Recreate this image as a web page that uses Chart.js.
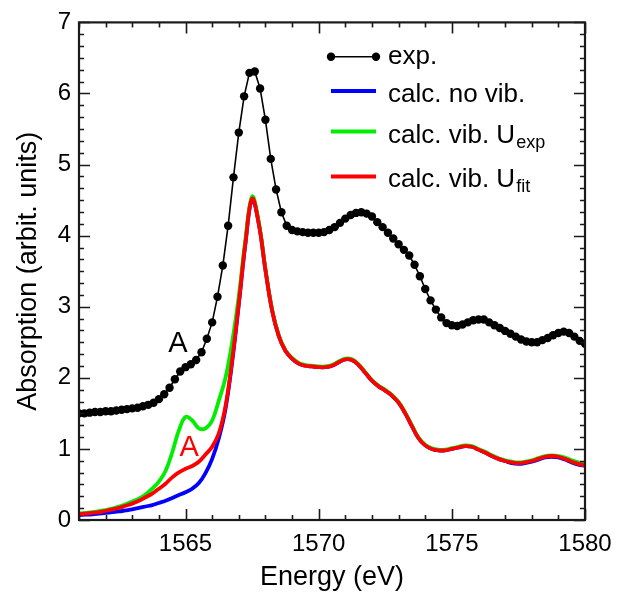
<!DOCTYPE html>
<html>
<head>
<meta charset="utf-8">
<script src="https://cdn.jsdelivr.net/npm/chart.js@4.4.1/dist/chart.umd.min.js"></script>
<style>
  html, body { margin: 0; padding: 0; background: #fff; }
  #wrap { width: 637px; height: 598px; }
</style>
</head>
<body>
<div id="wrap"><canvas id="grafico"></canvas></div>
<script>
// ===== dados =====
const energyExp = [
  1561.0, 1561.2, 1561.4, 1561.6, 1561.8,
  1562.0, 1562.2, 1562.4, 1562.6, 1562.8,
  1563.0, 1563.2, 1563.4, 1563.6, 1563.8,
  1564.0, 1564.2, 1564.4, 1564.6, 1564.8,
  1565.0, 1565.2, 1565.4, 1565.6, 1565.8,
  1566.0, 1566.2, 1566.4, 1566.6, 1566.8,
  1567.0, 1567.2, 1567.4, 1567.6, 1567.8,
  1568.0, 1568.2, 1568.4, 1568.6, 1568.8,
  1569.0, 1569.2, 1569.4, 1569.6, 1569.8,
  1570.0, 1570.2, 1570.4, 1570.6, 1570.8,
  1571.0, 1571.2, 1571.4, 1571.6, 1571.8,
  1572.0, 1572.2, 1572.4, 1572.6, 1572.8,
  1573.0, 1573.2, 1573.4, 1573.6, 1573.8,
  1574.0, 1574.2, 1574.4, 1574.6, 1574.8,
  1575.0, 1575.2, 1575.4, 1575.6, 1575.8,
  1576.0, 1576.2, 1576.4, 1576.6, 1576.8,
  1577.0, 1577.2, 1577.4, 1577.6, 1577.8,
  1578.0, 1578.2, 1578.4, 1578.6, 1578.8,
  1579.0, 1579.2, 1579.4, 1579.6, 1579.8,
  1580.0
];
const absExp = [
  1.50, 1.50, 1.51, 1.52, 1.52,
  1.53, 1.53, 1.54, 1.55, 1.56,
  1.57, 1.58, 1.60, 1.62, 1.65,
  1.70, 1.77, 1.86, 1.98, 2.09,
  2.15, 2.19, 2.25, 2.36, 2.55,
  2.78, 3.14, 3.58, 4.14, 4.82,
  5.45, 5.96, 6.29, 6.31, 6.07,
  5.63, 5.08, 4.65, 4.33, 4.14,
  4.08, 4.06, 4.05, 4.04, 4.04,
  4.04, 4.05, 4.08, 4.12, 4.18,
  4.24, 4.29, 4.32, 4.33, 4.31,
  4.27, 4.19, 4.12, 4.04, 3.96,
  3.88, 3.80, 3.72, 3.59, 3.43,
  3.25, 3.09, 2.96, 2.85, 2.77,
  2.74, 2.73, 2.75, 2.78, 2.81,
  2.82, 2.82, 2.78, 2.74, 2.70,
  2.66, 2.62, 2.58, 2.54, 2.51,
  2.50, 2.50, 2.53, 2.56, 2.60,
  2.63, 2.65, 2.63, 2.58, 2.52,
  2.48
];
const energyCalc = [
  1561.00, 1561.25, 1561.50, 1561.75,
  1562.00, 1562.25, 1562.50, 1562.75,
  1563.00, 1563.25, 1563.50, 1563.75,
  1564.00, 1564.25, 1564.50, 1564.75,
  1565.00, 1565.25, 1565.50, 1565.75,
  1566.00, 1566.25, 1566.50, 1566.75,
  1567.00, 1567.25, 1567.50, 1567.75,
  1568.00, 1568.25, 1568.50, 1568.75,
  1569.00, 1569.25, 1569.50, 1569.75,
  1570.00, 1570.25, 1570.50, 1570.75,
  1571.00, 1571.25, 1571.50, 1571.75,
  1572.00, 1572.25, 1572.50, 1572.75,
  1573.00, 1573.25, 1573.50, 1573.75,
  1574.00, 1574.25, 1574.50, 1574.75,
  1575.00, 1575.25, 1575.50, 1575.75,
  1576.00, 1576.25, 1576.50, 1576.75,
  1577.00, 1577.25, 1577.50, 1577.75,
  1578.00, 1578.25, 1578.50, 1578.75,
  1579.00, 1579.25, 1579.50, 1579.75,
  1580.00
];
const calcNoVib = [
  0.07, 0.075, 0.08, 0.09,
  0.10, 0.11, 0.12, 0.135,
  0.15, 0.17, 0.19, 0.21,
  0.24, 0.27, 0.31, 0.35,
  0.39, 0.44, 0.52, 0.66,
  0.86, 1.15, 1.56, 2.22,
  3.03, 3.89, 4.51, 4.17,
  3.52, 2.95, 2.59, 2.38,
  2.27, 2.20, 2.17, 2.16,
  2.15, 2.15, 2.17, 2.22,
  2.26, 2.25, 2.18, 2.07,
  1.96, 1.88, 1.82, 1.75,
  1.65, 1.50, 1.32, 1.15,
  1.05, 1.00, 0.98, 0.98,
  1.00, 1.02, 1.04, 1.03,
  0.99, 0.95, 0.90, 0.86,
  0.83, 0.80, 0.79, 0.80,
  0.82, 0.85, 0.88, 0.89,
  0.88, 0.85, 0.81, 0.78,
  0.76
];
const calcVibUexp = [
  0.09, 0.10, 0.11, 0.125,
  0.14, 0.16, 0.19, 0.22,
  0.26, 0.30, 0.36, 0.44,
  0.54, 0.69, 0.95, 1.26,
  1.45, 1.40, 1.29, 1.29,
  1.40, 1.68, 2.00, 2.50,
  3.15, 3.95, 4.55, 4.19,
  3.53, 2.96, 2.60, 2.39,
  2.28, 2.21, 2.18, 2.17,
  2.16, 2.16, 2.18, 2.23,
  2.27, 2.26, 2.19, 2.08,
  1.97, 1.89, 1.83, 1.76,
  1.66, 1.51, 1.33, 1.16,
  1.06, 1.01, 0.99, 0.99,
  1.01, 1.03, 1.05, 1.04,
  1.00, 0.96, 0.91, 0.87,
  0.84, 0.82, 0.81, 0.82,
  0.84, 0.87, 0.90, 0.91,
  0.90, 0.88, 0.84, 0.81,
  0.79
];
const calcVibUfit = [
  0.08, 0.09, 0.10, 0.11,
  0.13, 0.15, 0.17, 0.20,
  0.23, 0.27, 0.32, 0.37,
  0.44, 0.51, 0.60, 0.67,
  0.72, 0.76, 0.82, 0.92,
  1.03, 1.22, 1.60, 2.25,
  3.05, 3.90, 4.52, 4.17,
  3.52, 2.95, 2.59, 2.38,
  2.27, 2.20, 2.17, 2.16,
  2.15, 2.15, 2.17, 2.22,
  2.26, 2.25, 2.18, 2.07,
  1.96, 1.88, 1.82, 1.75,
  1.65, 1.50, 1.32, 1.15,
  1.05, 1.00, 0.98, 0.98,
  1.00, 1.02, 1.04, 1.03,
  0.99, 0.95, 0.90, 0.86,
  0.83, 0.81, 0.80, 0.81,
  0.83, 0.86, 0.89, 0.90,
  0.89, 0.86, 0.82, 0.79,
  0.77
];
const xTicks = [1565, 1570, 1575, 1580];
const yTicks = [0, 1, 2, 3, 4, 5, 6, 7];
const xMinorStep = 1;
const yMinorPerUnit = 6;

const fonte = '"Liberation Sans", Arial, sans-serif';

function pares(xs, ys) {
  return xs.map((x, i) => ({ x: x, y: ys[i] }));
}

// ===== legenda, eixos com ticks internos e letras "A" =====
const molduraPlugin = {
  id: 'moldura',
  afterDatasetsDraw(chart) {
    const ctx = chart.ctx;
    const a = chart.chartArea;
    const sx = chart.scales.x, sy = chart.scales.y;
    ctx.save();
    ctx.strokeStyle = '#1a1a1a';
    ctx.lineWidth = 1.6;

    // ticks x (baixo e topo)
    for (let v = Math.ceil(sx.min); v <= sx.max; v += xMinorStep) {
      const px = Math.round(sx.getPixelForValue(v)) + 0.5;
      const len = xTicks.includes(v) ? 11 : 5;
      ctx.beginPath();
      ctx.moveTo(px, a.bottom); ctx.lineTo(px, a.bottom - len);
      ctx.moveTo(px, a.top); ctx.lineTo(px, a.top + len);
      ctx.stroke();
    }
    // ticks y (esquerda e direita)
    for (let k = 0; k <= sy.max * yMinorPerUnit; k++) {
      const v = k / yMinorPerUnit;
      const py = Math.round(sy.getPixelForValue(v)) + 0.5;
      const len = k % yMinorPerUnit === 0 ? 11 : 5;
      ctx.beginPath();
      ctx.moveTo(a.left, py); ctx.lineTo(a.left + len, py);
      ctx.moveTo(a.right, py); ctx.lineTo(a.right - len, py);
      ctx.stroke();
    }
    ctx.lineWidth = 2.2;
    ctx.strokeRect(a.left, a.top, a.right - a.left, a.bottom - a.top);

    // letras A
    ctx.font = '29px ' + fonte;
    ctx.textAlign = 'center';
    ctx.textBaseline = 'middle';
    ctx.fillStyle = '#000';
    ctx.fillText('A', sx.getPixelForValue(1564.71), sy.getPixelForValue(2.48));
    ctx.fillStyle = '#ff0000';
    ctx.fillText('A', sx.getPixelForValue(1565.14), sy.getPixelForValue(1.01));

    // legenda
    const itens = [
      { ds: 0, texto: 'exp.', sub: '', yl: 56.7, yb: 63.5 },
      { ds: 3, texto: 'calc. no vib.', sub: '', yl: 91, yb: 102 },
      { ds: 2, texto: 'calc. vib. U', sub: 'exp', yl: 131.5, yb: 142.5 },
      { ds: 1, texto: 'calc. vib. U', sub: 'fit', yl: 176.5, yb: 187 }
    ];
    const x0 = 331, x1 = 376, xt = 388;
    ctx.textAlign = 'left';
    ctx.textBaseline = 'alphabetic';
    itens.forEach(it => {
      const ds = chart.data.datasets[it.ds];
      ctx.strokeStyle = ds.borderColor;
      ctx.lineWidth = ds.borderWidth;
      ctx.beginPath();
      ctx.moveTo(x0, it.yl); ctx.lineTo(x1, it.yl);
      ctx.stroke();
      if (ds.pointRadius > 0) {
        ctx.fillStyle = ds.pointBackgroundColor;
        [x0, x1].forEach(px => {
          ctx.beginPath();
          ctx.arc(px, it.yl, ds.pointRadius, 0, Math.PI * 2);
          ctx.fill();
        });
      }
      ctx.fillStyle = '#000';
      ctx.font = '26px ' + fonte;
      ctx.fillText(it.texto, xt, it.yb);
      if (it.sub) {
        const w = ctx.measureText(it.texto).width;
        ctx.font = '18px ' + fonte;
        ctx.fillText(it.sub, xt + w + 1, it.yb + 5);
      }
    });
    ctx.restore();
  }
};

document.addEventListener('DOMContentLoaded', () => {
  const ctxGrafico = document.getElementById('grafico').getContext('2d');
  new Chart(ctxGrafico, {
    type: 'line',
    data: {
      datasets: [
        {
          label: 'exp.',
          data: pares(energyExp, absExp),
          borderColor: '#000',
          borderWidth: 1.6,
          pointRadius: 4.2,
          pointBackgroundColor: '#000',
          pointBorderWidth: 0,
          tension: 0,
          order: 0
        },
        {
          label: 'calc. vib. Ufit',
          data: pares(energyCalc, calcVibUfit),
          borderColor: '#ff0000',
          borderWidth: 3.8,
          pointRadius: 0,
          tension: 0.4,
          order: 1
        },
        {
          label: 'calc. vib. Uexp',
          data: pares(energyCalc, calcVibUexp),
          borderColor: '#00ee00',
          borderWidth: 3.8,
          pointRadius: 0,
          tension: 0.4,
          order: 2
        },
        {
          label: 'calc. no vib.',
          data: pares(energyCalc, calcNoVib),
          borderColor: '#0000ff',
          borderWidth: 3.8,
          pointRadius: 0,
          tension: 0.4,
          order: 3
        }
      ]
    },
    options: {
      responsive: true,
      maintainAspectRatio: false,
      animation: false,
      layout: { padding: { top: 15, right: 52, left: 0, bottom: 0 } },
      plugins: { legend: { display: false }, tooltip: { enabled: false } },
      scales: {
        x: {
          type: 'linear',
          min: 1561,
          max: 1580,
          afterBuildTicks: s => { s.ticks = xTicks.map(v => ({ value: v })); },
          afterFit: s => { s.height = 78; },
          grid: { display: false, drawTicks: false },
          border: { display: false },
          ticks: {
            color: '#000', padding: 10, maxRotation: 0,
            font: { family: fonte, size: 24 },
            callback: v => String(v)
          },
          title: {
            display: true, text: 'Energy (eV)', color: '#000',
            font: { family: fonte, size: 27, lineHeight: 1 },
            padding: { top: 0, bottom: 7 }
          }
        },
        y: {
          min: 0,
          max: 7,
          afterBuildTicks: s => { s.ticks = yTicks.map(v => ({ value: v })); },
          afterFit: s => { s.width = 79; },
          grid: { display: false, drawTicks: false },
          border: { display: false },
          ticks: {
            color: '#000', padding: 8,
            font: { family: fonte, size: 24 },
            callback: v => String(v)
          },
          title: {
            display: true, text: 'Absorption (arbit. units)', color: '#000',
            font: { family: fonte, size: 27, lineHeight: 1 },
            padding: { top: 15, bottom: 0 }
          }
        }
      }
    },
    plugins: [molduraPlugin]
  });
});
</script>
</body>
</html>
